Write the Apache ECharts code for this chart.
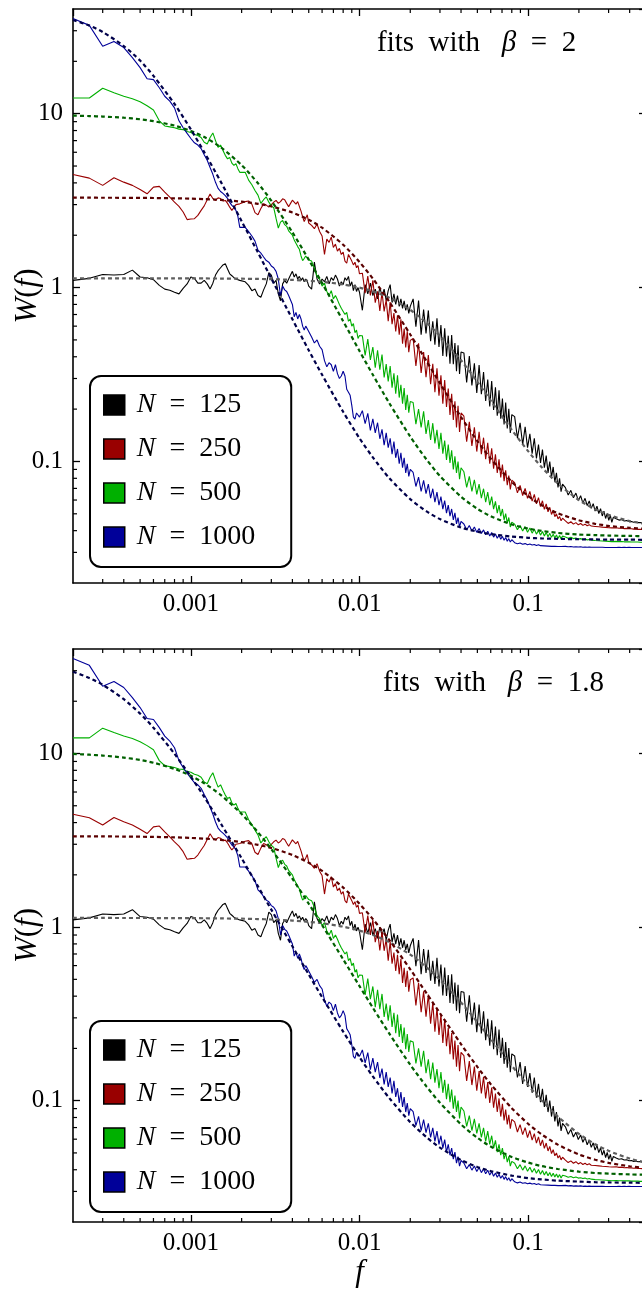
<!DOCTYPE html>
<html>
<head>
<meta charset="utf-8">
<script src="https://cdn.jsdelivr.net/npm/echarts@6/dist/echarts.min.js"></script>
<style>
  html, body { margin: 0; padding: 0; background: #ffffff; }
  #chart { width: 642px; height: 1295px; }
</style>
</head>
<body>
<div id="chart"></div>
<script>
// Spectral density W(f) for four system sizes, with fits of two exponents.

// Frequency resolution: every sample sits at f = k * DF.
const DF = 5e-5;
const K = [
  4,5,6,7,8,9,10,11,12,13,14,15,16,17,18,19,20,21,22,23,24,25,26,27,28,29,30,31,32,33,34,35,36,37,38,39,40,
  42,44,46,48,50,52,54,56,58,60,62,64,66,68,70,72,74,76,78,80,82,84,86,88,90,92,94,96,98,100,
  104,108,112,116,120,124,128,132,136,140,144,148,152,156,160,164,168,172,176,180,184,188,192,196,200,
  208,216,224,232,240,248,256,264,272,280,288,296,304,312,320,328,336,344,352,360,368,376,384,392,400,
  416,432,448,464,480,496,512,528,544,560,576,592,608,624,640,656,672,688,704,720,736,752,768,784,800,
  832,864,896,928,960,992,1024,1056,1088,1120,1152,1184,1216,1248,1280,1312,1344,1376,1408,1440,1472,1504,1536,1568,1600,
  1664,1728,1792,1856,1920,1984,2048,2112,2176,2240,2304,2368,2432,2496,2560,2624,2688,2752,2816,2880,2944,3008,3072,3136,3200,
  3328,3456,3584,3712,3840,3968,4096,4224,4352,4480,4608,4736,4864,4992,5120,5248,5376,5504,5632,5760,5888,6016,6144,6272,6400,
  6656,6912,7168,7424,7680,7936,8192,8448,8704,8960,9216,9472,9728,9984
];

// Measured W(f), one value per entry of K.
const W_N125 = [
  1.10,1.13,1.19,1.18,1.19,1.26,1.15,1.14,1.11,1.03,0.98,0.965,0.94,0.92,0.99,1.05,1.15,1.13,1.06,1.06,1.10,1.05,0.98,1.06,1.18,1.25,1.30,1.35,1.37,1.28,1.20,1.17,1.14,1.12,1.11,1.10,1.09,
  1.08,1.03,0.96,0.98,0.90,0.88,0.97,1.05,1.22,1.18,1.06,1.10,0.92,0.84,1.05,1.10,1.06,1.12,1.18,1.24,1.15,1.20,1.12,1.16,1.10,1.14,1.08,1.12,1.09,1.02,
  0.98,1.40,1.12,1.05,1.12,1.08,1.16,1.05,1.14,1.10,1.18,1.12,1.02,1.08,1.04,1.14,1.10,1.16,1.02,1.08,0.96,1.04,0.95,1.00,0.94,
  0.74,1.04,0.92,1.06,0.90,0.98,0.86,1.00,0.90,0.98,0.84,0.96,1.04,0.82,0.92,0.80,0.90,0.78,0.86,0.76,0.84,0.74,0.80,0.71,0.78,
  0.861,0.596,0.842,0.536,0.748,0.545,0.739,0.491,0.64,0.47,0.666,0.455,0.608,0.404,0.584,0.401,0.529,0.365,0.534,0.362,0.48,0.33,0.465,0.319,0.426,
  0.421,0.285,0.404,0.274,0.367,0.248,0.358,0.244,0.327,0.223,0.296,0.207,0.29,0.198,0.267,0.183,0.257,0.176,0.23,0.163,0.218,0.155,0.201,0.146,0.186,
  0.181,0.136,0.167,0.125,0.158,0.12,0.144,0.111,0.136,0.104,0.125,0.098,0.117,0.092,0.108,0.086,0.1,0.081,0.093,0.076,0.086,0.071,0.08,0.067,0.074,
  0.0707,0.0641,0.0682,0.0618,0.0658,0.0597,0.0635,0.0576,0.0614,0.0557,0.0593,0.0538,0.0572,0.0519,0.0553,0.0502,0.0535,0.0486,0.0518,0.047,0.0503,0.0459,0.049,0.0447,0.0477,
  0.0468,0.0460,0.0463,0.0455,0.0457,0.0451,0.0452,0.0447,0.0449,0.0445,0.0446,0.0443,0.0443,0.0441
];
const W_N250 = [
  4.47,4.26,3.87,4.28,4.04,3.87,3.66,3.46,3.78,3.82,3.54,3.31,3.10,2.93,2.72,2.46,2.48,2.49,2.60,2.78,2.95,3.2,3.45,3.25,3.17,3.28,3.25,3.15,3.17,3.05,2.90,2.78,2.88,3.0,3.05,3.03,3.08,
  3.12,3.15,3.02,2.70,2.62,2.85,3.03,2.98,2.90,3.00,3.10,3.17,3.05,3.12,3.24,3.20,3.05,2.92,3.05,3.18,3.10,3.02,3.12,3.15,2.75,2.55,2.40,2.50,2.62,2.35,
  2.28,2.18,2.32,2.10,1.98,1.55,1.90,1.82,1.95,1.70,1.78,1.62,1.68,1.55,1.60,1.42,1.38,1.55,1.58,1.42,1.35,1.40,1.30,1.34,1.20,
  1.21,0.928,1.165,0.902,1.101,0.818,0.951,0.734,0.941,0.73,0.85,0.641,0.826,0.616,0.714,0.559,0.693,0.536,0.656,0.476,0.582,0.452,0.56,0.425,0.497,
  0.51,0.354,0.478,0.323,0.426,0.305,0.409,0.278,0.365,0.25,0.343,0.239,0.313,0.215,0.294,0.206,0.263,0.185,0.245,0.173,0.222,0.157,0.209,0.148,0.19,
  0.182,0.13,0.169,0.123,0.157,0.114,0.148,0.11,0.137,0.103,0.128,0.097,0.119,0.091,0.11,0.086,0.103,0.081,0.096,0.077,0.089,0.073,0.083,0.069,0.078,
  0.0755,0.0660,0.0728,0.0637,0.0700,0.0613,0.0673,0.0592,0.0646,0.0570,0.0619,0.0550,0.0594,0.0531,0.0570,0.0513,0.0545,0.0496,0.0522,0.0481,0.0500,0.0467,0.0483,0.0456,0.0472,
  0.0455,0.0440,0.0450,0.0436,0.0445,0.0432,0.0440,0.0429,0.0436,0.0427,0.0433,0.0425,0.0430,0.0423,0.0427,0.0421,0.0425,0.0419,0.0423,0.0418,0.0421,0.0416,0.0419,0.0415,0.0417,
  0.0416,0.0413,0.0414,0.0411,0.0412,0.0410,0.0410,0.0408,0.0409,0.0407,0.0407,0.0406,0.0406,0.0405
];
const W_N500 = [
  12.3,12.3,14.0,13.2,12.6,12.2,11.7,11.1,10.5,9.1,8.5,8.4,8.3,8.15,8.1,7.9,7.8,7.6,7.5,7.3,6.85,6.7,7.3,7.75,7.0,6.4,6.6,6.15,5.76,5.5,5.6,5.2,5.04,5.15,4.83,4.6,4.52,
  4.6,4.15,3.90,3.62,3.40,3.05,3.20,3.32,3.10,2.95,2.88,2.50,2.20,2.38,2.43,2.30,2.25,2.12,2.14,2.00,1.88,1.85,1.72,1.66,1.52,1.43,1.47,1.52,1.50,1.44,
  1.42,1.30,1.16,1.12,1.02,1.06,0.95,0.90,0.96,0.86,0.90,0.85,0.80,0.76,0.78,0.70,0.72,0.64,0.66,0.60,0.62,0.55,0.57,0.51,0.53,
  0.528,0.407,0.505,0.384,0.455,0.346,0.435,0.337,0.412,0.304,0.363,0.289,0.354,0.266,0.321,0.245,0.313,0.233,0.276,0.215,0.264,0.198,0.242,0.191,0.221,
  0.218,0.164,0.2,0.157,0.194,0.144,0.173,0.133,0.166,0.127,0.152,0.118,0.146,0.111,0.132,0.102,0.125,0.098,0.116,0.09,0.107,0.086,0.1,0.079,0.092,
  0.0872,0.071,0.0821,0.0673,0.0785,0.0647,0.074,0.0615,0.0697,0.0583,0.0667,0.056,0.0628,0.0532,0.059,0.0505,0.0561,0.0485,0.0533,0.0461,0.0501,0.0442,0.0476,0.042,0.0447,
  0.0436,0.0405,0.0428,0.0398,0.0421,0.0392,0.0414,0.0387,0.0407,0.0382,0.0401,0.0377,0.0396,0.0373,0.0391,0.0369,0.0386,0.0366,0.0382,0.0363,0.0378,0.0361,0.0375,0.0359,0.0372,
  0.0368,0.0362,0.0366,0.0360,0.0363,0.0358,0.0360,0.0356,0.0358,0.0354,0.0356,0.0353,0.0354,0.0351,0.0353,0.0350,0.0351,0.0349,0.0350,0.0348,0.0349,0.0347,0.0348,0.0346,0.0347,
  0.0347,0.0346,0.0346,0.0345,0.0345,0.0345,0.0344,0.0344,0.0344,0.0344,0.0343,0.0343,0.0343,0.0343
];
const W_N1000 = [
  35.3,32.2,24.4,26.0,24.0,21.0,18.4,15.9,15.7,14.1,12.6,11.8,10.8,9.1,8.3,7.7,7.2,6.8,6.6,6.3,5.8,5.4,4.9,4.48,4.03,3.72,3.57,3.48,3.38,3.26,3.09,2.97,2.9,2.78,2.57,2.22,2.22,
  2.22,2.10,1.98,1.85,1.64,1.58,1.50,1.43,1.40,1.33,1.30,1.24,1.12,0.90,1.02,0.97,0.95,0.90,0.92,0.80,0.68,0.72,0.66,0.70,0.66,0.60,0.57,0.60,0.58,0.59,
  0.52,0.48,0.50,0.46,0.44,0.38,0.35,0.37,0.36,0.33,0.36,0.32,0.30,0.31,0.33,0.31,0.26,0.25,0.24,0.21,0.18,0.175,0.19,0.185,0.18,
  0.196,0.165,0.189,0.151,0.176,0.146,0.167,0.135,0.153,0.124,0.146,0.12,0.136,0.11,0.13,0.105,0.118,0.097,0.112,0.092,0.105,0.086,0.097,0.082,0.09,
  0.0864,0.0718,0.0813,0.0673,0.0778,0.0654,0.074,0.0615,0.0697,0.0583,0.0667,0.056,0.0628,0.0532,0.0596,0.0505,0.0561,0.0485,0.0533,0.0461,0.0506,0.0437,0.0476,0.042,0.0452,
  0.0437,0.0405,0.0428,0.0398,0.042,0.0391,0.0412,0.0385,0.0404,0.0379,0.0397,0.0373,0.039,0.0367,0.0383,0.0362,0.0377,0.0357,0.0371,0.0352,0.0365,0.0348,0.036,0.0344,0.0355,
  0.0341,0.0336,0.0340,0.0334,0.0337,0.0332,0.0335,0.0331,0.0333,0.0329,0.0332,0.0328,0.0330,0.0327,0.0329,0.0326,0.0328,0.0325,0.0327,0.0325,0.0326,0.0324,0.0326,0.0324,0.0325,
  0.0325,0.0323,0.0324,0.0322,0.0323,0.0322,0.0323,0.0321,0.0322,0.0321,0.0322,0.0321,0.0322,0.0321,0.0322,0.0321,0.0321,0.0321,0.0321,0.0320,0.0321,0.0320,0.0321,0.0320,0.0321,
  0.0320,0.0321,0.0320,0.0321,0.0320,0.0321,0.0320,0.0320,0.0320,0.0320,0.0320,0.0320,0.0320,0.0320
];

// Fitted curves, tabulated at these frequencies.
const FIT_F = [0.0002,0.00025,0.0003,0.0004,0.0005,0.0006,0.0008,0.001,0.0012,0.0015,0.002,0.0025,0.003,0.004,0.005,0.006,0.008,0.01,0.012,0.015,0.02,0.025,0.03,0.04,0.05,0.06,0.08,0.1,0.12,0.15,0.2,0.25,0.3,0.4,0.5];

// beta = 2
const FIT_B2_N125  = [1.1305,1.1305,1.1304,1.1303,1.1301,1.1300,1.1295,1.129,1.1284,1.1271,1.1245,1.121,1.117,1.107,1.094,1.079,1.043,0.999,0.951,0.8735,0.744,0.627,0.528,0.382,0.287,0.224,0.152,0.1146,0.093,0.0747,0.060,0.0531,0.0493,0.0454,0.0437];
const FIT_B2_N250  = [3.29,3.287,3.286,3.283,3.279,3.274,3.261,3.246,3.226,3.192,3.12,3.031,2.93,2.701,2.455,2.209,1.764,1.403,1.126,0.830,0.537,0.377,0.2815,0.180,0.131,0.104,0.0763,0.0633,0.0562,0.0504,0.0459,0.0438,0.0426,0.0415,0.0409];
const FIT_B2_N500  = [9.75,9.69,9.63,9.48,9.29,9.06,8.54,7.95,7.34,6.42,5.06,3.98,3.16,2.08,1.447,1.061,0.641,0.432,0.315,0.217,0.139,0.1025,0.0825,0.0627,0.0534,0.0484,0.0434,0.0411,0.0399,0.0388,0.0380,0.0377,0.0375,0.0373,0.0372];
const FIT_B2_N1000 = [34.6,32.1,29.5,24.5,20.2,16.5,11.37,8.12,6.01,4.08,2.41,1.59,1.128,0.658,0.436,0.315,0.193,0.136,0.1056,0.0803,0.0607,0.0516,0.0466,0.0417,0.0395,0.0382,0.0370,0.0364,0.0361,0.0359,0.0357,0.0356,0.0355,0.0355,0.0354];

// beta = 1.8
const FIT_B18_N125  = [1.129,1.1287,1.1286,1.1284,1.128,1.1277,1.1268,1.1257,1.1244,1.122,1.118,1.112,1.106,1.090,1.072,1.052,1.006,0.954,0.901,0.820,0.694,0.586,0.497,0.368,0.2835,0.227,0.159,0.1226,0.1005,0.081,0.0644,0.0561,0.0514,0.0464,0.0440];
const FIT_B18_N250  = [3.335,3.333,3.330,3.324,3.317,3.308,3.288,3.263,3.234,3.184,3.088,2.977,2.857,2.603,2.348,2.107,1.689,1.362,1.112,0.844,0.571,0.415,0.319,0.2116,0.1565,0.1245,0.0905,0.0736,0.0640,0.0558,0.0490,0.0457,0.0438,0.0419,0.0409];
const FIT_B18_N500  = [9.94,9.84,9.73,9.47,9.18,8.85,8.15,7.44,6.74,5.78,4.48,3.52,2.81,1.90,1.363,1.028,0.652,0.457,0.343,0.244,0.161,0.1205,0.0973,0.073,0.0611,0.0544,0.0474,0.0440,0.0420,0.0404,0.0390,0.0383,0.0380,0.0376,0.0374];
const FIT_B18_N1000 = [29.62,27.23,24.88,20.56,16.97,14.08,9.96,7.35,5.62,3.97,2.49,1.715,1.26,0.775,0.533,0.395,0.250,0.178,0.138,0.1036,0.0752,0.0615,0.0536,0.0455,0.0415,0.0393,0.0370,0.0358,0.0352,0.0346,0.0342,0.0339,0.0338,0.0337,0.0336];

// Axes
const F_MIN = 0.0002, F_MAX = 0.5;
const W_MIN = 0.02, W_MAX = 40;
const X_TICKS = [0.001, 0.01, 0.1];
const X_TICK_LABELS = ['0.001', '0.01', '0.1'];
const Y_TICKS = [0.1, 1, 10];
const Y_TICK_LABELS = ['0.1', '1', '10'];
const X_MINOR = [0.0003,0.0004,0.0005,0.0006,0.0007,0.0008,0.0009,0.002,0.003,0.004,0.005,0.006,0.007,0.008,0.009,0.02,0.03,0.04,0.05,0.06,0.07,0.08,0.09,0.2,0.3,0.4];
const Y_MINOR = [0.03,0.04,0.05,0.06,0.07,0.08,0.09,0.2,0.3,0.4,0.5,0.6,0.7,0.8,0.9,2,3,4,5,6,7,8,9,20,30];

const NAMES = ['N = 125', 'N = 250', 'N = 500', 'N = 1000'];
const BETAS = ['2', '1.8'];

const SERIF = '"Liberation Serif", "DejaVu Serif", serif';
const COLORS = ['#000000', '#990000', '#00b000', '#000099'];
const FIT_COLORS = ['#5e5e5e', '#5a0000', '#006000', '#00004a'];

const MEASURED = [W_N125, W_N250, W_N500, W_N1000];
const FITS = [
  [FIT_B2_N125, FIT_B2_N250, FIT_B2_N500, FIT_B2_N1000],
  [FIT_B18_N125, FIT_B18_N250, FIT_B18_N500, FIT_B18_N1000]
];

const GRIDS = [
  { left: 73, top: 9, width: 573, height: 574, outerBoundsMode: 'none', containLabel: false },
  { left: 73, top: 649, width: 573, height: 573, outerBoundsMode: 'none', containLabel: false }
];
const LEGEND_TOPS = [376, 1021];
const TITLE_POS = [[377, 29], [383, 669]];

function labelFor(ticks, labels) {
  return function (v) {
    for (let i = 0; i < ticks.length; i++) {
      if (Math.abs(Math.log10(v) - Math.log10(ticks[i])) < 1e-6) return labels[i];
    }
    return '';
  };
}

const italic = { fontStyle: 'italic', fontFamily: SERIF, fontSize: 31, color: '#000' };
const upright = { fontFamily: SERIF, fontSize: 31, color: '#000' };

const xAxes = [], yAxes = [], series = [], legends = [], graphics = [];

// short tick marks drawn inward from one edge of a grid
function edgeTicks(xi, yi, points, dx, dy) {
  return {
    type: 'custom', xAxisIndex: xi, yAxisIndex: yi,
    data: points, clip: false, silent: true, animation: false, z: 6,
    renderItem: function (params, api) {
      const p = api.coord([api.value(0), api.value(1)]);
      return {
        type: 'line',
        shape: { x1: p[0], y1: p[1], x2: p[0] + dx, y2: p[1] + dy },
        style: { stroke: '#000', lineWidth: 1.2 }
      };
    }
  };
}

GRIDS.forEach(function (g, gi) {
  const isLast = gi === GRIDS.length - 1;
  const axisLine = { show: true, onZero: false, lineStyle: { color: '#000', width: 1.6 } };
  const axisTick = { show: true, inside: true, length: 7, lineStyle: { color: '#000', width: 1.3 } };

  xAxes.push({
    type: 'log', logBase: 10, gridIndex: gi, position: 'bottom',
    min: F_MIN, max: F_MAX,
    axisLine: axisLine, axisTick: axisTick,
    splitLine: { show: false }, minorTick: { show: false },
    axisLabel: {
      formatter: labelFor(X_TICKS, X_TICK_LABELS),
      showMinLabel: false, showMaxLabel: false,
      fontFamily: SERIF, fontSize: 25, color: '#000', margin: 9
    },
    name: isLast ? '{i|f}' : '',
    nameLocation: 'middle', nameGap: 35, nameMoveOverlap: false,
    nameTextStyle: { rich: { i: italic } }
  });
  xAxes.push({
    type: 'log', logBase: 10, gridIndex: gi, position: 'top',
    min: F_MIN, max: F_MAX,
    axisLine: axisLine, axisTick: axisTick,
    splitLine: { show: false }, axisLabel: { show: false }
  });
  yAxes.push({
    type: 'log', logBase: 10, gridIndex: gi, position: 'left',
    min: W_MIN, max: W_MAX,
    axisLine: axisLine, axisTick: axisTick,
    splitLine: { show: false }, minorTick: { show: false },
    axisLabel: {
      formatter: labelFor(Y_TICKS, Y_TICK_LABELS),
      showMinLabel: false, showMaxLabel: false,
      fontFamily: SERIF, fontSize: 25, color: '#000', margin: 10
    },
    name: '{i|W}{r|(}{i|f}{r|)}',
    nameLocation: 'middle', nameGap: 30, nameMoveOverlap: false,
    nameTextStyle: { rich: { i: italic, r: upright } }
  });
  yAxes.push({
    type: 'log', logBase: 10, gridIndex: gi, position: 'right',
    min: W_MIN, max: W_MAX,
    axisLine: axisLine, axisTick: axisTick,
    splitLine: { show: false }, axisLabel: { show: false }
  });

  const xi = gi * 2, yi = gi * 2;

  // measured spectra
  MEASURED.forEach(function (vals, s) {
    series.push({
      type: 'line', name: NAMES[s], xAxisIndex: xi, yAxisIndex: yi,
      data: K.map(function (k, i) { return [k * DF, vals[i]]; }),
      symbol: 'none', showSymbol: false,
      lineStyle: { color: COLORS[s], width: 1.1 },
      itemStyle: { color: COLORS[s] },
      z: 2, animation: false
    });
  });

  // fitted curves
  FITS[gi].forEach(function (vals, s) {
    series.push({
      type: 'line', name: 'fit ' + NAMES[s] + ' beta ' + BETAS[gi],
      xAxisIndex: xi, yAxisIndex: yi,
      data: FIT_F.map(function (f, i) { return [f, vals[i]]; }),
      symbol: 'none', showSymbol: false, smooth: 0.25,
      lineStyle: { color: FIT_COLORS[s], width: 2.2, type: [4, 3] },
      itemStyle: { color: FIT_COLORS[s] },
      z: 3, animation: false
    });
  });

  // minor ticks on all four sides
  series.push(edgeTicks(xi, yi, X_MINOR.map(function (v) { return [v, W_MIN]; }), 0, -4));
  series.push(edgeTicks(xi, yi, X_MINOR.map(function (v) { return [v, W_MAX]; }), 0, 4));
  series.push(edgeTicks(xi, yi, Y_MINOR.map(function (v) { return [F_MIN, v]; }), 4, 0));
  series.push(edgeTicks(xi, yi, Y_MINOR.map(function (v) { return [F_MAX, v]; }), -4, 0));

  legends.push({
    data: NAMES, orient: 'vertical', left: 90, top: LEGEND_TOPS[gi],
    icon: 'rect', itemWidth: 21, itemHeight: 20, itemGap: 16,
    padding: [15, 36, 16, 13],
    backgroundColor: '#ffffff', borderColor: '#000', borderWidth: 2, borderRadius: 11,
    itemStyle: { borderColor: '#000', borderWidth: 1.5 },
    selectedMode: false,
    formatter: function (name) {
      return '{i|N}{r|\u2002=\u2002' + name.split('= ')[1] + '}';
    },
    textStyle: {
      fontFamily: SERIF, fontSize: 28, color: '#000', padding: [0, 0, 0, 7],
      rich: {
        i: { fontStyle: 'italic', fontFamily: SERIF, fontSize: 28, color: '#000' },
        r: { fontFamily: SERIF, fontSize: 28, color: '#000' }
      }
    }
  });

  graphics.push({
    type: 'text', left: TITLE_POS[gi][0], top: TITLE_POS[gi][1], z: 10,
    style: {
      text: '{r|fits  with   }{b|β}{r|\u2002=\u2002' + BETAS[gi] + '}',
      rich: {
        r: { fontFamily: SERIF, fontSize: 29, fill: '#000' },
        b: { fontFamily: SERIF, fontSize: 29, fontStyle: 'italic', fill: '#000' }
      }
    }
  });
});

const chart = echarts.init(document.getElementById('chart'), null, { renderer: 'canvas' });
chart.setOption({
  animation: false,
  backgroundColor: '#ffffff',
  grid: GRIDS,
  xAxis: xAxes,
  yAxis: yAxes,
  legend: legends,
  graphic: graphics,
  series: series
});
</script>
</body>
</html>
